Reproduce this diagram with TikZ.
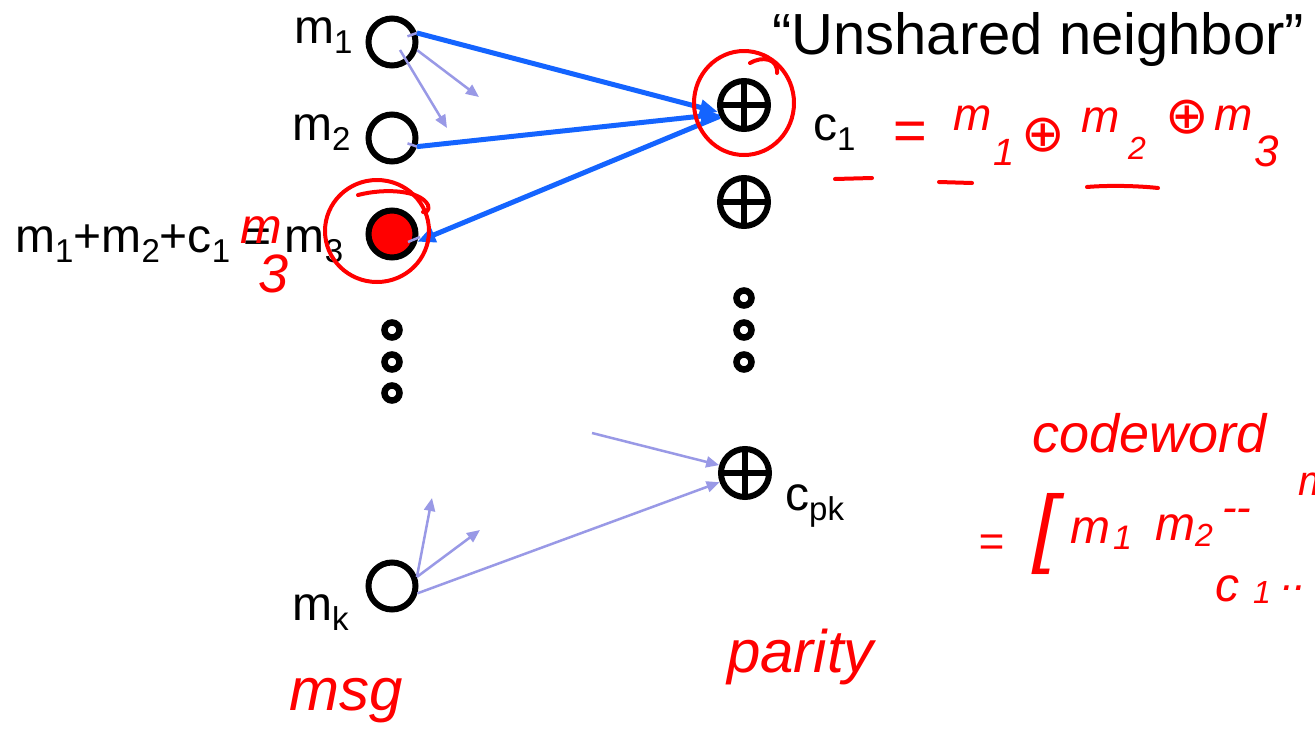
\documentclass[tikz,border=0pt]{standalone}
\usepackage{fontspec}
\setmainfont{Liberation Sans}
\newfontfamily\symfont{DejaVu Sans}
\usetikzlibrary{arrows.meta,calc}
\definecolor{inkred}{RGB}{255,0,0}
\definecolor{arrblue}{RGB}{20,100,255}
\definecolor{lav}{RGB}{153,153,230}
\newcommand\fs[1]{\fontsize{#1}{#1}\selectfont}
\newcommand\lsub[1]{\raisebox{-10pt}{\fs{33}#1}}
\begin{document}
\begin{tikzpicture}[x=1pt,y=-1pt,
  msgnode/.style={circle,draw,line width=6pt,minimum size=47pt,inner sep=0pt},
  dotnode/.style={circle,draw,line width=6.5pt,minimum size=15pt,inner sep=0pt},
  xornode/.style={circle,draw,line width=6pt,minimum size=48pt,inner sep=0pt,
    path picture={\draw[line width=6pt] (path picture bounding box.north)--(path picture bounding box.south)
      (path picture bounding box.west)--(path picture bounding box.east);}},
  lbl/.style={anchor=base west,inner sep=0pt,font=\fs{48}},
  hand/.style={anchor=base west,inner sep=0pt,text=inkred,font=\itshape\fs{#1}},
  handsym/.style={anchor=center,inner sep=0pt,text=inkred,font=\symfont\fs{#1}},
  bluearr/.style={draw=arrblue,line width=5pt,-{Triangle[length=18pt,width=15pt]}},
  lavarrow/.style={draw=lav,line width=2.5pt,-{Triangle[length=13pt,width=11pt]}},
  lavline/.style={draw=lav,line width=2.5pt},
  redink/.style={draw=inkred,line width=4pt,line cap=round,line join=round}
]
\useasboundingbox (0,0) rectangle (1315,734);
\fill[white] (0,0) rectangle (1315,734);

% title
\node[anchor=base west,inner sep=0pt,font=\fs{58}] (title) at (772,54) {“Unshared neighbor”};

% message nodes
\node[msgnode] (m1) at (392,42) {};
\node[msgnode] (m2) at (392,138) {};
\node[msgnode,fill=inkred] (m3) at (392,234) {};
\node[dotnode] (d1) at (392,330) {};
\node[dotnode] (d2) at (392,362) {};
\node[dotnode] (d3) at (392,393) {};
\node[msgnode] (mk) at (392,586) {};

% parity nodes
\node[xornode] (c1) at (744,105) {};
\node[xornode] (c2) at (744,202) {};
\node[dotnode] (e1) at (744,298) {};
\node[dotnode] (e2) at (744,330) {};
\node[dotnode] (e3) at (744,362) {};
\node[xornode] (cpk) at (745,473) {};

% labels
\node[lbl] (lm1) at (294,43) {m\lsub{1}};
\node[lbl] (lm2) at (292,140) {m\lsub{2}};
\node[lbl] (lm3) at (15,252) {m\lsub{1}+m\lsub{2}+c\lsub{1} = m\lsub{3}};
\node[lbl] (lmk) at (292,620) {m\lsub{k}};
\node[lbl] (lc1) at (813,140) {c\lsub{1}};
\node[lbl] (lcpk) at (785,510) {c\lsub{pk}};

% thin lavender arrows
\coordinate (p0) at (400,50);
\coordinate (p1) at (479,97);
\coordinate (p2) at (447,128);
\draw[lavarrow] (m1.-18) -- (p1);
\draw[lavarrow] (p0) -- (p2);
\coordinate (q1) at (432,498);
\coordinate (q2) at (480,530);
\coordinate (q3) at (592,433);
\draw[lavarrow] (mk.20) -- (q1);
\draw[lavarrow] (mk.20) -- (q2);
\draw[lavarrow] (mk.-16) -- (cpk.200);
\draw[lavarrow] (q3) -- (cpk.163);
\draw[lavline] ($(m1)!0.62!(m1.20)$) -- (m1.20);
\draw[lavline] ($(m2)!0.62!(m2.-19)$) -- (m2.-19);
\draw[lavline] ($(m3)+(16,8)$) -- ($(m3)+(28,3)$);

% thick blue arrows
\draw[bluearr] (m1.20) -- (c1.195);
\draw[bluearr] (m2.-19) -- (c1.200);
\draw[bluearr] (c1.205) -- (m3.-17);

% red ink annotations
\draw[redink] (c1) ++(0,-2) ellipse [x radius=50,y radius=52];
\draw[redink] (750,63) .. controls (762,56) and (778,58) .. (777,73);
\draw[redink] (m3) ++(-15,-3) ellipse [x radius=52,y radius=51];
\draw[redink] (358,195) .. controls (385,188) and (420,190) .. (428,205) .. controls (430,210) and (426,213) .. (423,212);
\draw[redink] (835,179) -- (872,178);
\draw[redink] (939,182) -- (972,183);
\draw[redink] (1087,187) .. controls (1110,185) and (1140,186) .. (1158,188);

\node[hand=50] (rm3) at (240,243) {m};
\node[hand=54] (r3) at (258,292) {3};

\node[hand=58] (req) at (892,150) {=};
\node[hand=46] (rma) at (953,130) {m};
\node[hand=38] (r1) at (993,165) {1};
\node[handsym=52] (rx1) at (1043,135) {⊕};
\node[hand=46] (rmb) at (1081,132) {m};
\node[hand=32] (r2) at (1128,159) {2};
\node[handsym=52] (rx2) at (1187,117) {⊕};
\node[hand=46] (rmc) at (1214,130) {m};
\node[hand=44] (r3b) at (1254,166) {3};

\node[hand=54] (cw) at (1032,452) {codeword};
\node[hand=44] (ceq) at (978,556) {=};
\node[anchor=center,inner sep=0pt,text=inkred,font=\itshape\fs{87}] (brk) at (1046,534) {[};
\node[hand=48] (cm1) at (1070,543) {m};
\node[hand=34] (cs1) at (1113,549) {1};
\node[hand=48] (cm2) at (1155,540) {m};
\node[hand=32] (cs2) at (1195,546) {2};
\node[hand=44] (cdash) at (1222,522) {-{}-};
\node[hand=42] (cm3) at (1298,495) {m};
\node[hand=48] (cc) at (1215,601) {c};
\node[hand=32] (cc1) at (1253,603) {1};
\node[hand=44] (cdots) at (1282,590) {..};

\node[hand=60] (parity) at (727,672) {parity};
\node[hand=60] (msg) at (289,710) {msg};
\end{tikzpicture}
\end{document}
